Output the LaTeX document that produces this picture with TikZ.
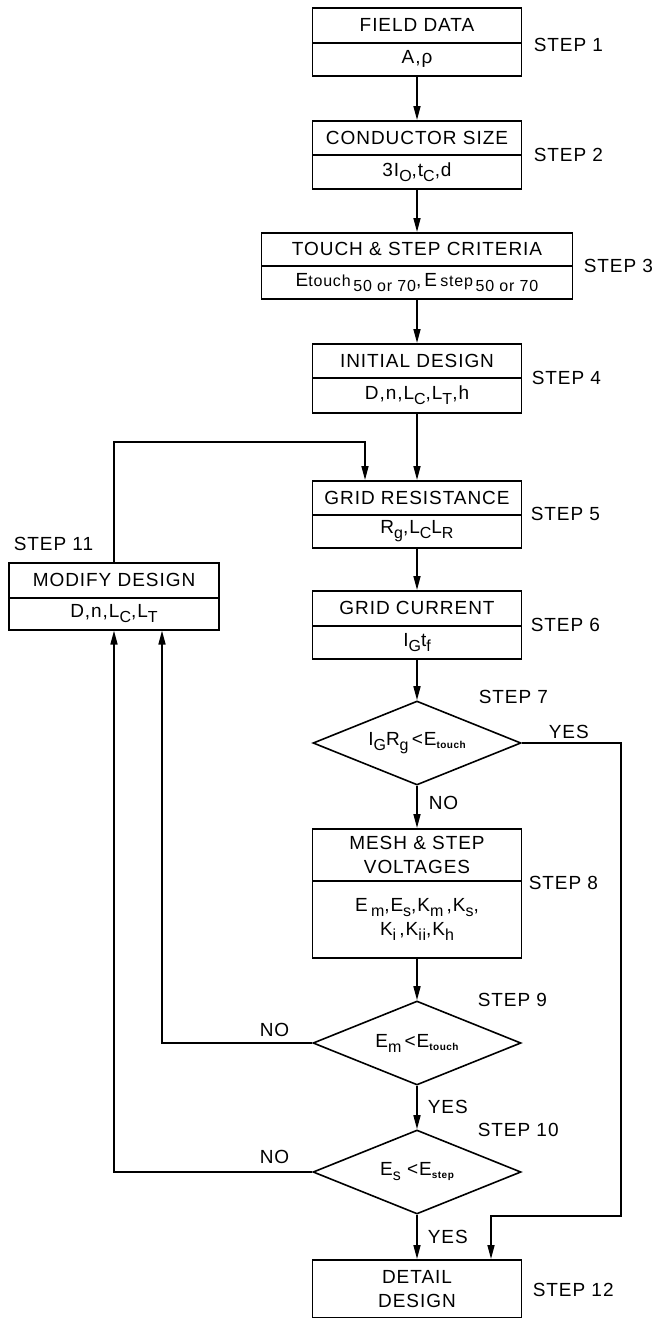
\documentclass[tikz,border=0pt]{standalone}
\usepackage{fontspec}
\setmainfont{Liberation Sans}[LetterSpace=5]
\usetikzlibrary{shapes.geometric,arrows.meta}
\newcommand{\lo}[1]{\raisebox{-0.5ex}{\fontsize{16}{16}\selectfont #1}}
\newcommand{\mdsz}[1]{{\fontsize{16}{16}\selectfont #1}}
\newcommand{\tn}[1]{\raisebox{-0.3ex}{\fontsize{10}{10}\selectfont\bfseries #1}}
\begin{document}
\begin{tikzpicture}[x=1pt,y=-1pt,
  line width=1.6pt,
  every node/.style={font=\fontsize{19}{24}\selectfont},
  part/.style={draw, minimum width=209pt, inner sep=0pt, anchor=north, align=center},
  lbl/.style={anchor=west, inner sep=0pt},
  dec/.style={draw, diamond, aspect=2.5, inner sep=0pt, minimum width=208pt, minimum height=84pt},
  arr/.style={-{Triangle[length=14pt,width=7pt]}}]
\useasboundingbox (0,0) rectangle (662,1318);

% main boxes
\node[part, minimum height=35pt] (B1a) at (417,7) {FIELD DATA};
\node[part, minimum height=33pt] (B1b) at (417,42) {A,ρ};
\node[part, minimum height=34pt] (B2a) at (417,120) {CONDUCTOR SIZE};
\node[part, minimum height=34pt] (B2b) at (417,154) {3I\lo{O},t\lo{C},d};
\node[part, minimum width=311pt, minimum height=33pt] (B3a) at (417,232) {TOUCH \& STEP CRITERIA};
\node[part, minimum width=311pt, minimum height=33pt] (B3b) at (417,265) {E\mdsz{touch}\lo{\,50 or 70},\,E\,\mdsz{step}\lo{\,50 or 70}};
\node[part, minimum height=34pt] (B4a) at (417,343) {INITIAL DESIGN};
\node[part, minimum height=35pt] (B4b) at (417,377) {D,n,L\lo{C},L\lo{T},h};
\node[part, minimum height=34pt] (B5a) at (417,480) {GRID RESISTANCE};
\node[part, minimum height=33pt] (B5b) at (417,514) {R\lo{g},L\lo{C}L\lo{R}};
\node[part, minimum height=35pt] (B6a) at (417,590) {GRID CURRENT};
\node[part, minimum height=33pt] (B6b) at (417,625) {I\lo{G}t\lo{f}};
\node[dec] (D7) at (417,743) {I\lo{G}R\lo{g}\,<E\tn{touch}};
\node[part, minimum height=52pt] (B8a) at (417,828) {MESH \& STEP\\VOLTAGES};
\node[part, minimum height=77pt] (B8b) at (417,880) {E\,\lo{m},E\lo{s},K\lo{m}\,,K\lo{s},\\K\lo{i}\,,K\lo{ii},K\lo{h}};
\node[dec] (D9) at (417,1043) {E\lo{m}\,<E\tn{touch}};
\node[dec] (D10) at (417,1172) {E\lo{s}\,\,<E\tn{step}};
\node[part, minimum height=58pt] (B12) at (417,1259) {DETAIL\\DESIGN};
% modify design
\node[part, minimum width=210pt, minimum height=35pt] (B11a) at (114,562) {MODIFY DESIGN};
\node[part, minimum width=210pt, minimum height=32pt] (B11b) at (114,597) {D,n,L\lo{C},L\lo{T}};

% step labels
\node[lbl] (S1) at (533,45) {STEP 1};
\node[lbl] (S2) at (533,155) {STEP 2};
\node[lbl] (S3) at (583,266) {STEP 3};
\node[lbl] (S4) at (531,378) {STEP 4};
\node[lbl] (S5) at (530,514) {STEP 5};
\node[lbl] (S6) at (530,625) {STEP 6};
\node[lbl] (S7) at (478,697) {STEP 7};
\node[lbl] (S8) at (528,883) {STEP 8};
\node[lbl] (S9) at (477,1000) {STEP 9};
\node[lbl] (S10) at (477,1130) {STEP 10};
\node[lbl] (S11) at (13,544) {STEP 11};
\node[lbl] (S12) at (532,1290) {STEP 12};

% yes/no labels
\node[lbl] (Y7) at (548,732) {YES};
\node[lbl] (N7) at (428,803) {NO};
\node[lbl] (N9) at (259,1030) {NO};
\node[lbl] (Y9) at (427,1107) {YES};
\node[lbl] (N10) at (259,1157) {NO};
\node[lbl] (Y10) at (427,1237) {YES};

% connectors
\draw[arr] (B1b) -- (B2a);
\draw[arr] (B2b) -- (B3a);
\draw[arr] (B3b) -- (B4a);
\draw[arr] (B4b) -- (B5a);
\draw[arr] (B5b) -- (B6a);
\draw[arr] (B6b) -- (D7);
\draw[arr] (D7) -- (B8a);
\draw[arr] (B8b) -- (D9);
\draw[arr] (D9) -- (D10);
\draw[arr] (D10) -- (B12);

\coordinate (fb) at (365,442);
\draw[arr] (B11a.north) |- (fb) -- (fb |- B5a.north);

\coordinate (r1) at (621,1216);
\coordinate (r2) at (491,1216);
\draw[arr] (D7.east) -| (r1) -- (r2) -- (r2 |- B12.north);

\coordinate (m9) at (162,0);
\draw[arr] (D9.west) -| (m9 |- B11b.south);
\draw[arr] (D10.west) -| (B11b.south);
\end{tikzpicture}
\end{document}
